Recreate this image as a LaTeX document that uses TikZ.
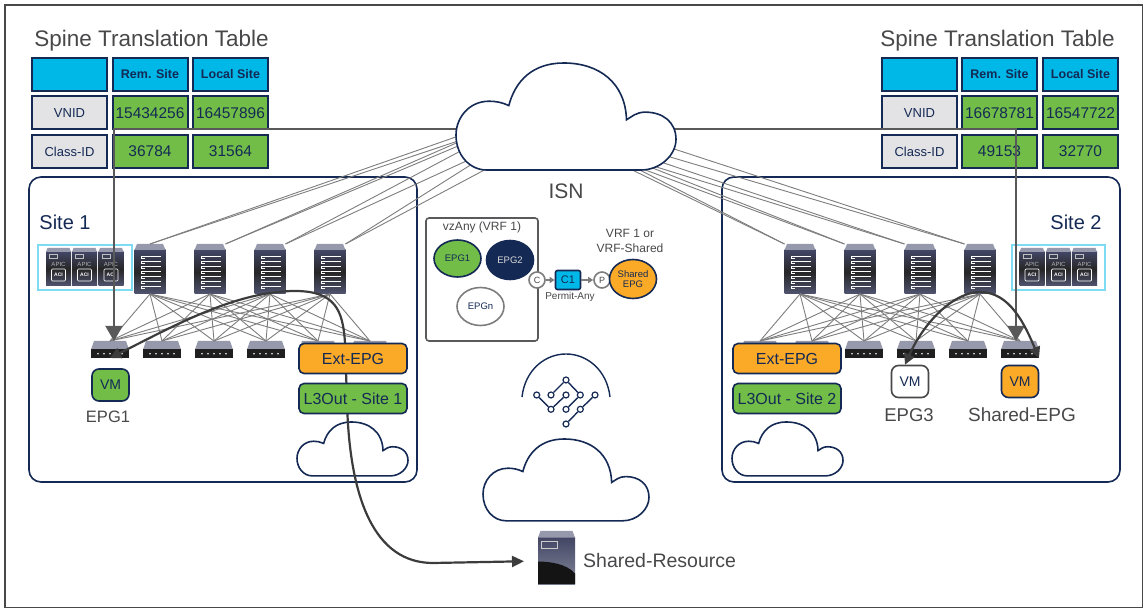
\documentclass[tikz,border=0pt]{standalone}
\usepackage{fontspec}
\setmainfont{Liberation Sans}
\usetikzlibrary{shapes.geometric, arrows.meta, calc}
\definecolor{navy1}{RGB}{20, 41, 84}
\definecolor{cyan1}{RGB}{0, 184, 232}
\definecolor{green1}{RGB}{113, 189, 72}
\definecolor{orange1}{RGB}{251, 170, 40}
\definecolor{cellgray}{RGB}{227, 227, 229}
\definecolor{textgray}{RGB}{72, 72, 74}
\definecolor{wiregray}{RGB}{125, 125, 125}
\definecolor{flowgray}{RGB}{60, 60, 60}
\definecolor{skyline}{RGB}{125, 220, 242}
\definecolor{capgray}{RGB}{150, 153, 172}
\definecolor{slate1}{RGB}{66, 70, 100}
\definecolor{slate2}{RGB}{80, 84, 112}
\newcommand{\fsz}[1]{\fontsize{#1}{#1}\selectfont}

\begin{document}
\begin{tikzpicture}[
  x=1pt, y=-1pt,
  hdrcell/.style={draw=navy1, line width=2pt, fill=cyan1, minimum width=75pt, minimum height=33pt,
                  inner sep=0pt, font=\fsz{12.5}\bfseries, text=navy1},
  keycell/.style={hdrcell, fill=cellgray, font=\fsz{13}},
  valcell/.style={hdrcell, fill=green1, font=\fsz{15.5}},
  heading/.style={font=\fsz{22.5}, text=textgray, inner sep=0pt},
  sitebox/.style={draw=navy1, line width=1.6pt, rounded corners=12pt},
  sitelbl/.style={font=\fsz{20}, text=navy1, inner sep=0pt},
  epgbox/.style={draw=navy1, line width=1.6pt, rounded corners=5pt, minimum width=108pt, minimum height=30pt,
                 inner sep=0pt, font=\fsz{16}, text=navy1},
  vmbox/.style={draw=navy1, line width=1.6pt, rounded corners=7pt, minimum width=37pt, minimum height=32pt,
                inner sep=0pt, font=\fsz{14}, text=navy1},
  vmlbl/.style={font=\fsz{18.5}, text=textgray, inner sep=0pt},
  epgoval/.style={ellipse, draw=navy1, line width=1.6pt, inner sep=0pt, minimum width=47pt, minimum height=37pt,
                  font=\fsz{9.5}, align=center, text=navy1},
  portcirc/.style={circle, draw=wiregray, line width=1.6pt, fill=white, minimum size=16pt, inner sep=0pt,
                   font=\fsz{9}, text=textgray},
  smalltxt/.style={font=\fsz{12}, text=textgray, inner sep=0pt, align=center},
  uplink/.style={draw=wiregray, line width=0.9pt},
  meshlink/.style={draw=wiregray, line width=0.9pt},
  vnidline/.style={draw=flowgray!85, line width=2pt},
  flowline/.style={draw=flowgray, line width=2.2pt},
  ckdot/.style={circle, draw=navy1, line width=1.2pt, fill=white, minimum size=6pt, inner sep=0pt},
  spinenode/.style={minimum width=31pt, minimum height=50pt, inner sep=0pt, outer sep=0pt, path picture={
    \begin{scope}[shift={(path picture bounding box.center)}]
      \shade[top color=slate1, bottom color=slate2, middle color=black!85] (-15.5,-19) rectangle (15.5,25);
      \fill[capgray] (-13,-25) -- (13,-25) -- (15.5,-19) -- (-15.5,-19) -- cycle;
      \foreach \y in {-13,-8,...,17} {
        \draw[white, line width=0.7pt] (-9,\y) -- (11,\y);
        \draw[white, line width=0.5pt] (-9,\y) -- (-9,\y+2.5) -- (-5,\y+2.5);
      }
    \end{scope}}},
  leafnode/.style={minimum width=38pt, minimum height=17pt, inner sep=0pt, outer sep=0pt, path picture={
    \begin{scope}[shift={(path picture bounding box.center)}]
      \fill[capgray] (-16,-8.5) -- (16,-8.5) -- (19,0) -- (-19,0) -- cycle;
      \fill[black!88] (-19,0) rectangle (19,8.5);
      \foreach \x in {-12,-6,...,12} {\fill[white] (\x,4.2) circle (0.9);}
    \end{scope}}},
  servernode/.style={minimum width=37pt, minimum height=53pt, inner sep=0pt, outer sep=0pt, path picture={
    \begin{scope}[shift={(path picture bounding box.center)}]
      \shade[top color=slate1, bottom color=slate2!70] (-18.5,-20) rectangle (18.5,26.5);
      \fill[capgray] (-16,-26.5) -- (16,-26.5) -- (18.5,-20) -- (-18.5,-20) -- cycle;
      \fill[black!92] (-18.5,4) .. controls (-8,4) and (10,6) .. (18.5,16) -- (18.5,26.5) -- (-18.5,26.5) -- cycle;
      \draw[white!80!black, line width=0.9pt] (-15,-16) rectangle (0.5,-9.5);
    \end{scope}}},
  apicicon/.pic={
    \shade[top color=slate1, bottom color=slate2, middle color=black!85] (-12.5,-15) rectangle (12.5,19);
    \fill[capgray] (-11,-19) -- (11,-19) -- (12.5,-15) -- (-12.5,-15) -- cycle;
    \draw[white!75!black, line width=0.6pt] (-9,-13) rectangle (-1,-9);
    \node[text=white!70!black, font=\fsz{6}, inner sep=0pt] (-nm) at (0,-3) {APIC};
    \draw[white, line width=0.7pt, rounded corners=1pt] (-7,2) rectangle (7,14);
    \node[text=white, font=\fsz{5}\bfseries, inner sep=0pt] (-ac) at (0,8) {ACI};
  },
  cloudicon/.pic={
    \draw[draw=navy1, line width=1.6pt, fill=white] (14,49) -- (84,49)
      .. controls (93,49) and (100,42) .. (100,35) .. controls (100,27) and (94,22.5) .. (86,22.5)
      .. controls (82,22.5) and (80,24.5) .. (77.5,26) .. controls (77,9) and (65,0) .. (49,0)
      .. controls (35,0) and (27,8) .. (24,19.5) .. controls (21,18) and (18,17.5) .. (15,17.5)
      .. controls (6,17.5) and (0,25) .. (0,33) .. controls (0,42) and (6,49) .. (14,49) -- cycle;
  },
]
\useasboundingbox (0,0) rectangle (1144,609);
\draw[draw=textgray, line width=1.6pt] (5,5) rectangle (1142.5,607.5);

% Sites
\draw[sitebox] (29,177) rectangle (417,482);
\draw[sitebox] (722,177) rectangle (1120,482);
\node[sitelbl] (siteA) at (65,222) {Site 1};
\node[sitelbl] (siteB) at (1076,222) {Site 2};

% APIC clusters
\draw[draw=skyline, line width=1.2pt] (38,245) rectangle (132,290);
\draw[draw=skyline, line width=1.2pt] (1012,245) rectangle (1105,290);
\pic (apcA1) at (58.5,267) {apicicon};
\pic (apcA2) at (84.5,267) {apicicon};
\pic (apcA3) at (111,267) {apicicon};
\pic (apcB1) at (1032,267) {apicicon};
\pic (apcB2) at (1058.5,267) {apicicon};
\pic (apcB3) at (1084.5,267) {apicicon};

% Fabric nodes
\foreach \n/\x in {1/150,2/210,3/270,4/330} {\node[spinenode] (spA\n) at (\x,269) {};}
\foreach \n/\x in {1/800,2/860,3/920,4/980} {\node[spinenode] (spB\n) at (\x,269) {};}
\foreach \n/\x in {1/110,2/162,3/214,4/266,5/318,6/370} {\node[leafnode] (lfA\n) at (\x,349.5) {};}
\foreach \n/\x in {1/760,2/812,3/864,4/916,5/968,6/1020} {\node[leafnode] (lfB\n) at (\x,349.5) {};}

\foreach \s in {1,...,4} {
  \foreach \l in {1,...,6} {
    \draw[meshlink] (spA\s.south) -- (lfA\l.north);
    \draw[meshlink] (spB\s.south) -- (lfB\l.north);
  }
}

% Uplinks towards the ISN
\foreach \n/\s/\a/\x/\y in {1/1/north/470/132,2/1/north/470/137,3/2/north east/470/137,4/2/north east/470/141,
                            5/3/north east/470/146,6/3/north east/475/157,7/4/north east/480/159,8/4/north east/490/167} {
  \coordinate (upA\n) at (\x,\y);
  \draw[uplink] (spA\s.\a) -- (upA\n);
}
\foreach \n/\s/\x/\y in {1/4/665/146,2/4/660/154,3/3/655/160,4/3/650/165,5/2/645/165,6/2/640/168,7/1/630/165,8/1/622/165} {
  \coordinate (upB\n) at (\x,\y);
  \draw[uplink] (spB\s.north west) -- (upB\n);
}

% Translation tables
\node[heading] (ttlA) at (151.5,41) {Spine Translation Table};
\node[hdrcell] (hA0) at (69.5,74.5) {};
\node[hdrcell] (hA1) at (150,74.5) {Rem. Site};
\node[hdrcell] (hA2) at (230.5,74.5) {Local Site};
\node[keycell] (kA1) at (69.5,113) {VNID};
\node[valcell] (vA1) at (150,113) {15434256};
\node[valcell] (vA2) at (230.5,113) {16457896};
\node[keycell] (kA2) at (69.5,151.5) {Class-ID};
\node[valcell] (vA3) at (150,151.5) {36784};
\node[valcell] (vA4) at (230.5,151.5) {31564};

\node[heading] (ttlB) at (997.5,41) {Spine Translation Table};
\node[hdrcell] (hB0) at (919.5,74.5) {};
\node[hdrcell] (hB1) at (999.5,74.5) {Rem. Site};
\node[hdrcell] (hB2) at (1080.5,74.5) {Local Site};
\node[keycell] (kB1) at (919.5,113) {VNID};
\node[valcell] (vB1) at (999.5,113) {16678781};
\node[valcell] (vB2) at (1080.5,113) {16547722};
\node[keycell] (kB2) at (919.5,151.5) {Class-ID};
\node[valcell] (vB3) at (999.5,151.5) {49153};
\node[valcell] (vB4) at (1080.5,151.5) {32770};

% VNID translation paths
\coordinate (isnW) at (470,129);
\coordinate (isnE) at (660,129);
\draw[vnidline, -{Triangle[length=15pt,width=17pt]}] (isnW) -| ([xshift=4pt]lfA1.north);
\draw[vnidline, -{Triangle[length=15pt,width=17pt]}] (isnE) -| ([xshift=-4pt]lfB6.north);

% ISN
\pic[xscale=2.2, yscale=2.184] at (456,63) {cloudicon};
\node[heading, font=\fsz{21}] (isnlbl) at (566,191) {ISN};

% Endpoints
\node[vmbox, fill=green1] (vmA) at (110.5,385) {VM};
\node[vmlbl, font=\fsz{16.5}] (vmAlbl) at (108,417) {EPG1};
\node[vmbox, fill=white, draw=textgray] (vmB) at (910,381.5) {VM};
\node[vmlbl] (vmBlbl) at (909,415) {EPG3};
\node[vmbox, fill=orange1] (vmC) at (1020,381.5) {VM};
\node[vmlbl, font=\fsz{19}] (vmClbl) at (1022,415) {Shared-EPG};
\node[servernode] (shres) at (556.5,557.5) {};
\node[vmlbl, font=\fsz{19.5}, anchor=west] (shlbl) at (583,561) {Shared-Resource};

% External clouds
\pic[xscale=1.11, yscale=1.1] at (297,422) {cloudicon};
\pic[xscale=1.11, yscale=1.1] at (732,422) {cloudicon};

% Traffic flows
\draw[flowline, {Triangle[length=11pt,width=11pt]}-{Triangle[length=12pt,width=11pt]}, shorten >=14pt]
     (lfA1.south) .. controls (170,328) and (235,291) .. (295,291)
     .. controls (335,291) and (343,310) .. (345,343) -- (347,400)
     .. controls (349,500) and (375,563) .. (433,563) -- ([yshift=-3.5pt]shres.west);
\draw[flowline, {Triangle[length=11pt,width=11pt]}-{Triangle[length=11pt,width=11pt]}]
     ([xshift=-5pt]vmB.north) .. controls (925,320) and (955,292) .. (980,292)
     .. controls (1010,292) and (1025,325) .. (lfB6.south east);

% External EPGs
\node[epgbox, fill=orange1] (extA) at (353,358.5) {Ext-EPG};
\node[epgbox, fill=green1] (l3A) at (353,398.5) {L3Out - Site 1};
\node[epgbox, fill=orange1] (extB) at (787,358.5) {Ext-EPG};
\node[epgbox, fill=green1] (l3B) at (787,398.5) {L3Out - Site 2};

% vzAny contract
\draw[draw=textgray!90, line width=1.6pt, rounded corners=3pt] (426,218) rectangle (538,341);
\node[smalltxt] (vzlbl) at (482,227) {vzAny (VRF 1)};
\node[epgoval, fill=green1] (oA) at (457.5,258.5) {EPG1};
\node[epgoval, fill=navy1, text=white!85!black, minimum height=39pt] (oB) at (510,260) {EPG2};
\node[epgoval, fill=white, draw=wiregray, minimum height=38pt] (oN) at (480.5,306.5) {EPGn};
\node[portcirc] (prtC) at (537,280) {C};
\node[draw=navy1, line width=1.6pt, fill=cyan1, rounded corners=2pt, minimum width=25pt, minimum height=19pt,
      inner sep=0pt, font=\fsz{11}, text=navy1] (cone) at (568,280) {C1};
\node[portcirc] (prtP) at (602,280) {P};
\node[epgoval, fill=orange1, minimum height=39pt] (oS) at (633,279) {Shared\\EPG};
\draw[-{Triangle[length=5pt,width=6pt]}, draw=wiregray, line width=1.6pt] (prtC) -- (cone);
\draw[-{Triangle[length=5pt,width=6pt]}, draw=wiregray, line width=1.6pt] (cone) -- (prtP);
\node[smalltxt, font=\fsz{10}] (cnlbl) at (570,297) {Permit-Any};
\node[smalltxt] (vrflbl) at (630,241) {VRF 1 or\\[3pt]VRF-Shared};

% Circuit emblem and shared cloud
\draw[draw=navy1, line width=1.4pt] (522,397) .. controls (525,370) and (545,354) .. (566,354)
     .. controls (587,354) and (607,370) .. (610,397);
\foreach \n/\x/\y in {1/566/380,2/536.7/395,3/551/395,4/566/395,5/580.3/395,6/595/395,7/551/409.3,8/566/409.3,9/580.3/409.3,10/566/424} {
  \node[ckdot] (ck\n) at (\x,\y) {};
}
\foreach \a/\b in {2/7,7/4,3/1,1/5,5/8,6/9,9/10} {\draw[draw=navy1, line width=1.4pt] (ck\a) -- (ck\b);}
\pic[xscale=1.66, yscale=1.67] at (483,439) {cloudicon};
\end{tikzpicture}
\end{document}
